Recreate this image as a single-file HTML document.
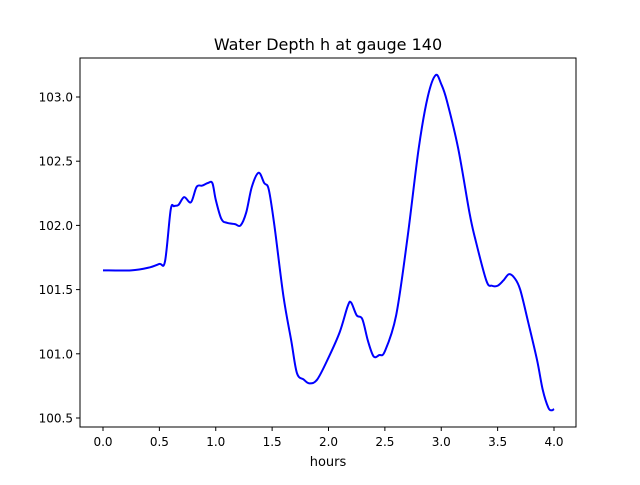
<!DOCTYPE html>
<html><head><meta charset="utf-8"><style>
body{margin:0;background:#fff;font-family:"Liberation Sans","DejaVu Sans",sans-serif}
</style></head><body>
<svg id="chart" width="640" height="480" xmlns="http://www.w3.org/2000/svg" font-family="DejaVu Sans, Liberation Sans, sans-serif">
<rect width="640" height="480" fill="#fff"/>
<text x="328" y="50" text-anchor="middle" font-size="16">Water Depth h at gauge 140</text>
<g id="ticks"></g>
<path id="line" fill="none" stroke="#0000ff" stroke-width="2"/>
<rect x="80" y="58" width="496" height="369" fill="none" stroke="#000" stroke-width="1"/>
<text x="328" y="466" text-anchor="middle" font-size="13">hours</text>
</svg>
<script>
const hours=[0,0.25,0.4,0.5,0.55,0.6,0.63,0.67,0.72,0.78,0.83,0.88,0.93,0.97,1.0,1.05,1.1,1.17,1.22,1.27,1.32,1.38,1.43,1.47,1.52,1.6,1.67,1.72,1.78,1.83,1.9,2.0,2.1,2.17,2.2,2.25,2.3,2.35,2.4,2.45,2.5,2.6,2.7,2.8,2.88,2.95,3.0,3.05,3.15,3.25,3.3,3.4,3.45,3.5,3.55,3.6,3.65,3.7,3.77,3.85,3.9,3.95,3.98,4.0];
const depth=[101.65,101.65,101.67,101.70,101.72,102.12,102.15,102.16,102.22,102.18,102.30,102.31,102.33,102.33,102.2,102.05,102.02,102.01,102.0,102.1,102.3,102.41,102.33,102.28,102.0,101.45,101.1,100.85,100.8,100.77,100.8,100.97,101.17,101.37,101.4,101.3,101.27,101.1,100.98,100.99,101.02,101.3,101.9,102.6,103.0,103.17,103.1,102.97,102.6,102.1,101.9,101.57,101.53,101.53,101.57,101.62,101.59,101.5,101.25,100.95,100.72,100.58,100.56,100.57];
const xTicks=["0.0","0.5","1.0","1.5","2.0","2.5","3.0","3.5","4.0"];
const yTicks=["100.5","101.0","101.5","102.0","102.5","103.0"];
const X=v=>103+v*112.75, Y=v=>97+(103-v)*128.4;
const ns="http://www.w3.org/2000/svg", g=document.getElementById('ticks');
function mk(t,a){const e=document.createElementNS(ns,t);for(const k in a)e.setAttribute(k,a[k]);g.appendChild(e);return e;}
xTicks.forEach(t=>{const x=X(+t);
 const l=mk('line',{x1:x,x2:x,y1:427,y2:431,stroke:'#000'});
 
 
 const s=mk('text',{x:x,y:446,'text-anchor':'middle','font-size':12});s.textContent=t;
 
 });
yTicks.forEach(t=>{const y=Y(+t);
 const l=mk('line',{x1:76,x2:80,y1:y,y2:y,stroke:'#000'});
 
 
 const s=mk('text',{x:73,y:y+4.5,'text-anchor':'end','font-size':12});s.textContent=t;
 
 });
const P=hours.map((h,i)=>[X(h),Y(depth[i])]);
let d='M'+P[0][0]+','+P[0][1];
for(let i=0;i<P.length-1;i++){const p0=P[i-1]||P[i],p1=P[i],p2=P[i+1],p3=P[i+2]||p2;
 d+=' C'+(p1[0]+(p2[0]-p0[0])/6)+','+(p1[1]+(p2[1]-p0[1])/6)+' '+(p2[0]-(p3[0]-p1[0])/6)+','+(p2[1]-(p3[1]-p1[1])/6)+' '+p2[0]+','+p2[1];}
document.getElementById('line').setAttribute('d',d);
</script>
</body></html>
